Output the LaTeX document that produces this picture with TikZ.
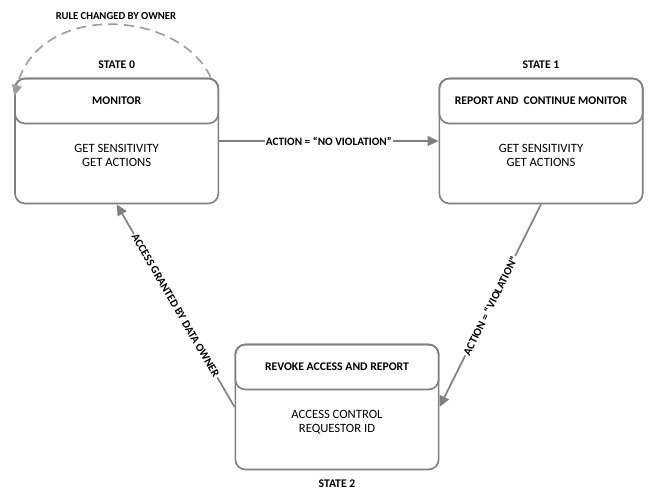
\documentclass[tikz,border=0pt]{standalone}
\usepackage{fontspec}
\setmainfont{Carlito}
\usetikzlibrary{positioning,arrows.meta}

\colorlet{linegray}{black!50}
\colorlet{dashgray}{black!38}

\tikzset{
    statebox/.style={draw=linegray, line width=1.4pt, rounded corners=0.3cm,
        minimum width=6.1cm, minimum height=3.75cm},
    headbox/.style={draw=linegray, line width=1.4pt, rounded corners=0.3cm,
        minimum width=6.1cm, minimum height=1.35cm, font=\bfseries},
    bodytext/.style={align=center, inner sep=0pt},
    statename/.style={font=\bfseries, inner sep=0pt},
    edgetext/.style={font=\fontsize{9.6}{11}\selectfont\bfseries, fill=white, inner sep=1pt, sloped},
    trans/.style={draw=linegray, line width=1.4pt, -{Triangle[length=0.33cm,width=0.3cm]}},
    loopback/.style={draw=dashgray, line width=1.4pt, dash pattern=on 0.3cm off 0.18cm,
        -{Triangle[length=0.33cm,width=0.3cm,fill=dashgray]}},
}

\begin{document}
\begin{tikzpicture}[font=\fontsize{10.8}{12}\selectfont]
    \useasboundingbox (0,0) rectangle (19.44,14.7);

    % states: outer box, title bar, contents
    \node[statebox] (s0) at (3.5,10.47) {};
    \node[headbox, anchor=north] (h0) at (s0.north) {MONITOR};
    \node[bodytext, below=0.6cm of h0] (b0) {GET SENSITIVITY\\GET ACTIONS};
    \node[statename, above=0.27cm of s0] (n0) {STATE 0};

    \node[statebox] (s1) at (16.23,10.47) {};
    \node[headbox, anchor=north] (h1) at (s1.north) {REPORT AND\ \ CONTINUE MONITOR};
    \node[bodytext, below=0.6cm of h1] (b1) {GET SENSITIVITY\\GET ACTIONS};
    \node[statename, above=0.27cm of s1] (n1) {STATE 1};

    \node[statebox] (s2) at (10.11,2.49) {};
    \node[headbox, anchor=north] (h2) at (s2.north) {REVOKE ACCESS AND REPORT};
    \node[bodytext, below=0.6cm of h2] (b2) {ACCESS CONTROL\\REQUESTOR ID};
    \node[statename, below=0.27cm of s2] (n2) {STATE 2};

    % transitions
    \draw[trans] (s0.east) -- node[edgetext] {ACTION = “NO VIOLATION”} (s1.west);
    \draw[trans] (s1.south) -- node[edgetext] {ACTION = “VIOLATION”} (s2.east);
    \draw[trans] (s2.west) -- node[edgetext] {ACCESS GRANTED BY DATA OWNER} (s0.south);

    % self loop on state 0
    \coordinate (r0) at ([xshift=-0.25cm]s0.north east);
    \coordinate (r1) at ([yshift=-0.55cm]s0.north west);
    \draw[loopback] (r0) .. controls (5.4,14.4) and (1.2,14.7) .. (r1);
    \node[font=\fontsize{9.1}{10}\selectfont\bfseries] (rule) at (3.48,14.22) {RULE CHANGED BY OWNER};
\end{tikzpicture}
\end{document}
